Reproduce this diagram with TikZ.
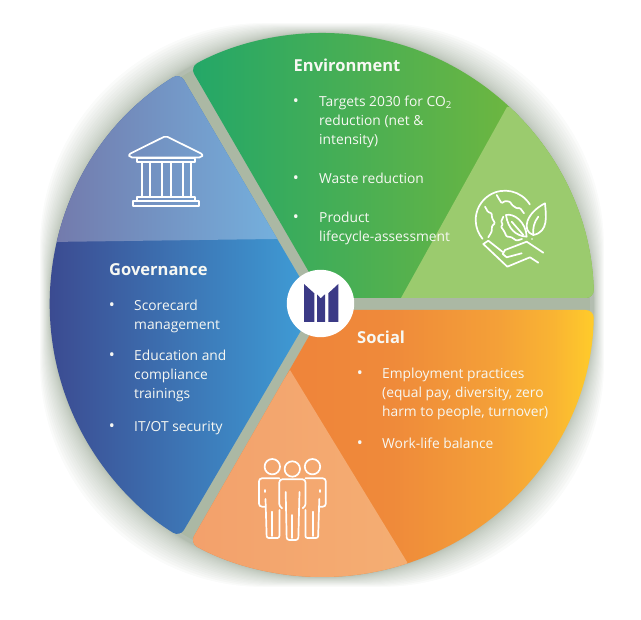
\documentclass[tikz,border=0pt]{standalone}
\usepackage{fontspec}
\setmainfont{Open Sans}
\definecolor{gapgrey}{HTML}{ABB8A4}
\definecolor{glowgrey}{HTML}{8A9A85}
\definecolor{greenA}{HTML}{23A768}
\definecolor{greenB}{HTML}{80BA36}
\definecolor{greenlight}{HTML}{9BCB6E}
\definecolor{blueA}{HTML}{3B3F87}
\definecolor{blueB}{HTML}{3E9FD8}
\definecolor{bluelightA}{HTML}{7379AB}
\definecolor{bluelightB}{HTML}{74B3E0}
\definecolor{orangelightA}{HTML}{F3A06B}
\definecolor{orangelightB}{HTML}{F4AE73}
\definecolor{logoblue}{HTML}{3B3A86}
\definecolor{textwhite}{HTML}{F7F8F3}
\definecolor{socialA}{HTML}{EE7E3A}
\definecolor{socialB}{HTML}{EF8A3A}
\definecolor{socialC}{HTML}{F4A038}
\definecolor{socialD}{HTML}{F9B433}
\definecolor{socialE}{HTML}{FFCC2A}
\pgfdeclarehorizontalshading{socialfade}{100bp}{color(0bp)=(socialA);
  color(25bp)=(socialA); color(50bp)=(socialB); color(63bp)=(socialC);
  color(70bp)=(socialD); color(75bp)=(socialE); color(100bp)=(socialE)}
\newcommand{\greensector}{(324,322) -- (593.9,322) arc[start angle=1.47,end angle=119,radius=272pt] -- cycle}
\newcommand{\bluesector}{(316,315) -- (179.9,546.9) arc[start angle=121.5,end angle=238.5,radius=272pt] -- cycle}
\newcommand{\orangesector}{(324,310) -- (593.9,310) arc[start angle=-1.05,end angle=-119,radius=272pt] -- cycle}
\tikzset{sector/.style = {rounded corners=8pt},
         icon/.style = {draw=white, line width=1.7pt, line join=round, line cap=round},
         headtext/.style = {text=textwhite, anchor=base west, inner sep=0pt,
                            font=\fontsize{16.5}{20}\selectfont\bfseries},
         bodytext/.style = {text=textwhite, anchor=north west, inner sep=0pt, align=left,
                            font=\fontsize{13.8}{19}\selectfont},
         dotmark/.style = {text=textwhite, anchor=base, inner sep=0pt, font=\fontsize{16}{16}\selectfont}}

\begin{document}
\begin{tikzpicture}[x=1pt,y=1pt]
    \useasboundingbox (0,0) rectangle (641,620);

    % soft shadow and the grey gaps
    \foreach \t in {1,2,...,24}{
      \pgfmathsetmacro\sh{272+10*(\t/24)^2.2}
      \pgfmathsetmacro\dg{272+34*(\t/24)^2.2}
      \pgfmathsetmacro\rr{(1.4142*\sh-\dg)/0.4142}
      \fill[glowgrey,opacity=0.045,rounded corners=\rr pt] (322-\sh,315-\sh) rectangle (322+\sh,315+\sh);
    }
    \fill[gapgrey] (322,315) circle[radius=268pt];

    % sectors
    \path[sector,left color=greenA,right color=greenB] \greensector;
    \path[sector,left color=blueA,right color=blueB] \bluesector;
    \path[sector,shading=socialfade] \orangesector;

    % lighter wedges
    \begin{scope}
      \clip[sector] \greensector;
      \fill[greenlight] (507,513) -- (401,322) -- (620,322) -- (620,513) -- cycle;
    \end{scope}
    \begin{scope}
      \clip[sector] \bluesector;
      \path[left color=bluelightA,right color=bluelightB]
        (50,378) -- (290,381.2) -- (290,560) -- (50,560) -- cycle;
    \end{scope}
    \begin{scope}
      \clip[sector] \orangesector;
      \path[left color=orangelightA,right color=orangelightB]
        (290,250) -- (407,58) -- (407,30) -- (180,30) -- (180,75) -- cycle;
    \end{scope}

    % logo
    \fill[white] (320.5,316.5) circle[radius=33.7pt];
    \begin{scope}[shift={(0,620)},yscale=-1]
      \fill[logoblue] (304,284) -- (314.3,293.3) -- (314.3,322) -- (304,322) -- cycle;
      \fill[logoblue] (317,294.3) -- (320.7,298.3) -- (325,294.3) -- (325,322) -- (317,322) -- cycle;
      \fill[logoblue] (338.3,284) -- (328.3,293.3) -- (328.3,322) -- (338.3,322) -- cycle;

      % temple
      \draw[icon,rounded corners=2pt] (165.7,136) -- (203,154.5) -- (201.5,157.5) -- (130,157.5) -- (128.5,154.5) -- cycle;
      \draw[icon] (137.3,158.5) rectangle (195,162.3);
      \foreach \c in {141.7,150,161.7,170.7,182.7,190.7}
        \draw[icon] (\c,162.3) -- (\c,197.3);
      \draw[icon] (137.3,197.3) rectangle (195,201);
      \draw[icon] (133.3,201) rectangle (199.3,206);

      % globe, leaves and hand
      \draw[icon] (505,220) ++(-32:29.3pt) arc[start angle=-32,end angle=-220,radius=29.3pt];
      \draw[icon,rounded corners=1pt] (496.7,195) -- (499,199) -- (501.7,203.3) -- (505,201) -- (510,201.7)
        -- (512,205) -- (516.7,208.3) -- (520,208) -- (524,213.3);
      \draw[icon,rounded corners=1pt] (485,206.7) -- (488,212) -- (491.7,213.3) -- (492,218) -- (495,223.3)
        -- (492,226) -- (491.7,231.7) -- (488.3,237.3);
      \draw[icon,rounded corners=1pt] (503.3,216.7) -- (501,222) -- (503,224) -- (501,226.7) -- (504,231)
        -- (506.7,236.7) -- (511,237) -- (516.7,240.7) -- (522,239);
      \draw[icon] (506,215) .. controls (514,213) and (526,222) .. (526.7,236.7)
        .. controls (516,236) and (508,229) .. (506,215) -- cycle;
      \draw[icon] (511.7,221.7) -- (523.3,235);
      \draw[icon] (545,203.3) .. controls (546,215) and (549,232) .. (533.3,235)
        .. controls (521,231) and (526,213) .. (545,203.3) -- cycle;
      \draw[icon] (538.3,216.7) .. controls (534,222) and (532.5,229) .. (533.3,235);
      \fill[white] (532,239) circle[radius=0.8pt];
      \draw[icon] (543.3,252.7) -- (526.7,241.7) -- (505,250) -- (502.7,254) -- (506.7,257.3) -- (521.7,253.3);
      \draw[icon] (502.7,252) -- (488.3,240.7) -- (483.3,244) -- (507.3,266.7) -- (530,257.3) -- (538.3,262.7);

      % people
      \draw[icon] (292.3,469) circle[radius=7.7pt];
      \draw[icon,rounded corners=3pt] (281.7,508) -- (279.3,507) -- (279.3,479.3) -- (305.5,479.3) -- (305.5,507) -- (303,508);
      \draw[icon,rounded corners=2.5pt] (285.7,492) -- (286.7,540) -- (298.3,540) -- (299.5,492);
      \draw[icon] (292.3,515) -- (292.3,538);
      \foreach \flip in {1,-1}{
        \begin{scope}[shift={(292.4,0)},xscale=\flip]
          \draw[icon] (-20.1,466.7) circle[radius=7.7pt];
          \draw[icon,rounded corners=3pt] (-13,478.3) -- (-33.4,478.3) -- (-33.4,506.7) -- (-27.4,506.7);
          \draw[icon] (-27.4,490) -- (-27.4,492);
          \draw[icon,rounded corners=2pt] (-26.9,499) -- (-25.7,538) -- (-13,538) -- (-13,510);
          \draw[icon] (-20.7,511.7) -- (-20.7,536);
        \end{scope}
      }
    \end{scope}

    % Environment
    \node[headtext] (envhead) at (293.5,548.3) {Environment};
    \node[dotmark] (envdota) at (296,513) {•};
    \node[bodytext] (enva) at (319,527.3) {\strut Targets 2030 for CO\textsubscript{2}\\reduction (net \&\\intensity)};
    \node[dotmark] (envdotb) at (296,436) {•};
    \node[bodytext] (envb) at (319,450.3) {\strut Waste reduction};
    \node[dotmark] (envdotc) at (296,397) {•};
    \node[bodytext] (envc) at (319,411.3) {\strut Product\\lifecycle-assessment};

    % Governance
    \node[headtext] (govhead) at (109,344.3) {Governance};
    \node[dotmark] (govdota) at (112,309) {•};
    \node[bodytext] (gova) at (134,323.3) {\strut Scorecard\\management};
    \node[dotmark] (govdotb) at (112,259) {•};
    \node[bodytext] (govb) at (134,273.3) {\strut Education and\\compliance\\trainings};
    \node[dotmark] (govdotc) at (112,188) {•};
    \node[bodytext] (govc) at (134,202.3) {\strut IT/OT security};

    % Social
    \node[headtext] (sochead) at (357,276.7) {Social};
    \node[dotmark] (socdota) at (360,241) {•};
    \node[bodytext] (soca) at (382,255) {\strut Employment practices\\(equal pay, diversity, zero\\harm to people, turnover)};
    \node[dotmark] (socdotb) at (360,171) {•};
    \node[bodytext] (socb) at (382,185.3) {\strut Work-life balance};
\end{tikzpicture}
\end{document}
